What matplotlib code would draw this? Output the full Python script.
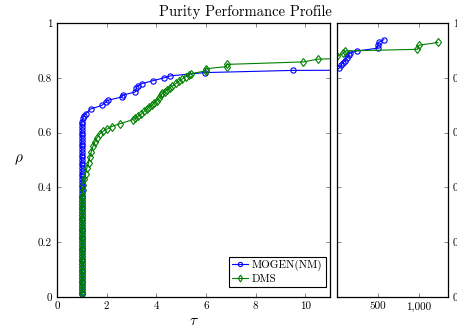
import numpy as np
import matplotlib
matplotlib.use("Agg")
import matplotlib.pyplot as plt

plt.rcParams["font.family"] = ["cmr10", "DejaVu Serif"]
plt.rcParams["mathtext.fontset"] = "cm"
plt.rcParams["axes.formatter.use_mathtext"] = True

# MOGEN(NM): stack of problems solved at tau = 1, then the rest of the profile
mogen_rho_at_one = [
    0.01, 0.02, 0.03, 0.04, 0.05, 0.06, 0.07, 0.08, 0.09, 0.10, 0.11, 0.12, 0.13, 0.14, 0.15, 0.16,
    0.17, 0.18, 0.19, 0.20, 0.21, 0.22, 0.23, 0.24, 0.25, 0.26, 0.27, 0.28, 0.29, 0.30, 0.31, 0.32,
    0.33, 0.34, 0.35, 0.36, 0.37, 0.38, 0.39, 0.40, 0.41, 0.42, 0.43, 0.44, 0.45, 0.46, 0.47, 0.48,
    0.49, 0.50, 0.51, 0.52, 0.53, 0.54, 0.55, 0.56, 0.57, 0.58, 0.59, 0.60, 0.61, 0.62, 0.63, 0.64,
]
mogen_tau_rest = [1.05, 1.1, 1.15, 1.35, 1.8, 1.98, 2.05, 2.62, 2.65, 3.15, 3.2, 3.25, 3.43,
                  3.85, 4.32, 4.56, 5.95, 9.5,
                  41, 60, 80, 105, 130, 150, 165, 250, 500, 505, 512, 575]
mogen_rho_rest = [0.655, 0.662, 0.668, 0.686, 0.699, 0.712, 0.718, 0.730, 0.737, 0.748, 0.764, 0.770, 0.779,
                  0.789, 0.800, 0.807, 0.819, 0.827,
                  0.837, 0.846, 0.855, 0.861, 0.874, 0.882, 0.890, 0.898, 0.908, 0.920, 0.929, 0.939]

# DMS
dms_rho_at_one = [
    0.01, 0.02, 0.03, 0.04, 0.05, 0.06, 0.07, 0.08, 0.09, 0.10, 0.11, 0.12, 0.13, 0.14, 0.15, 0.16,
    0.17, 0.18, 0.19, 0.20, 0.21, 0.22, 0.23, 0.24, 0.25, 0.26, 0.27, 0.28, 0.29, 0.30, 0.31, 0.32,
    0.33, 0.34, 0.35, 0.36,
]
dms_tau_rest = [1.01, 1.03, 1.06, 1.1, 1.15, 1.2, 1.27, 1.32, 1.38, 1.45, 1.52, 1.6, 1.72, 1.85,
                2.0, 2.2, 2.52, 3.05, 3.15, 3.25, 3.4, 3.52, 3.62, 3.72, 3.82, 3.92, 4.02, 4.12,
                4.2, 4.25, 4.35, 4.45, 4.55, 4.65, 4.8, 4.92, 5.05, 5.19, 5.3, 5.39, 5.99, 6.0,
                6.83, 6.85, 9.93, 10.5,
                14, 85, 113, 980, 1000, 1228]
dms_rho_rest = [0.37, 0.39, 0.41, 0.43, 0.45, 0.47, 0.49, 0.51, 0.53, 0.55, 0.565, 0.58, 0.595, 0.605,
                0.612, 0.622, 0.632, 0.647, 0.652, 0.659, 0.668, 0.678, 0.686, 0.694, 0.700, 0.708, 0.717, 0.727,
                0.736, 0.745, 0.750, 0.757, 0.764, 0.770, 0.780, 0.788, 0.796, 0.804, 0.810, 0.815, 0.825, 0.833,
                0.841, 0.849, 0.858, 0.868,
                0.878, 0.889, 0.898, 0.904, 0.919, 0.929]

rho_ticks = [0, 0.2, 0.4, 0.6, 0.8, 1]
rho_labels = ["0", "0.2", "0.4", "0.6", "0.8", "1"]
tau_ticks_left = [0, 2, 4, 6, 8, 10]
tau_ticks_right = [500, 1000]
tau_labels_right = ["500", "1,000"]

mogen_tau = np.array([1.0] * len(mogen_rho_at_one) + mogen_tau_rest)
mogen_rho = np.array(mogen_rho_at_one + mogen_rho_rest)
dms_tau = np.array([1.0] * len(dms_rho_at_one) + dms_tau_rest)
dms_rho = np.array(dms_rho_at_one + dms_rho_rest)

series = [
    ("MOGEN(NM)", mogen_tau, mogen_rho, "#0000ff", "o", 3.8),
    ("DMS", dms_tau, dms_rho, "#008000", "d", 4.4),
]

fig = plt.figure(figsize=(4.57, 3.3), dpi=100)
ax1 = fig.add_axes([57 / 457, 33 / 330, 273 / 457, 274 / 330])
ax2 = fig.add_axes([337 / 457, 33 / 330, 111 / 457, 274 / 330])

x_split = 11
for name, tau, rho, col, mk, ms in series:
    ax1.plot(tau, rho, color=col, lw=0.8, marker=mk, ms=ms, mfc="none", mew=0.8, label=name)
    ax2.plot(tau, rho, color=col, lw=0.8)
    keep = tau > x_split
    ax2.plot(tau[keep], rho[keep], ls="none", color=col, marker=mk, ms=ms, mfc="none", mew=0.8)

ax1.set_xlim(0, x_split)
ax2.set_xlim(x_split, 1350)
for ax in (ax1, ax2):
    ax.set_ylim(0, 1)
    ax.set_yticks(rho_ticks)
    ax.tick_params(direction="in", length=3, width=0.5, color="#555555", labelsize=8,
                   top=True, right=True, left=True, bottom=True)
    for sp in ax.spines.values():
        sp.set_linewidth(0.9)

ax1.set_xticks(tau_ticks_left)
ax1.set_xticklabels([str(t) for t in tau_ticks_left])
ax1.set_yticklabels(rho_labels)
ax2.set_xticks(tau_ticks_right)
ax2.set_xticklabels(tau_labels_right)
ax2.tick_params(labelleft=False, labelright=True)
ax2.set_yticklabels(rho_labels)

ax1.set_xlabel(r"$\tau$", fontsize=11, labelpad=2)
ax1.set_ylabel(r"$\rho$", fontsize=11, rotation=0, labelpad=14, va="center")
fig.text(245 / 457, 0.964, "Purity Performance Profile", ha="center", va="center", fontsize=10.5)

leg = ax1.legend(loc="lower right", bbox_to_anchor=(0.985, 0.036), borderaxespad=0,
                 fontsize=8, fancybox=False, edgecolor="black", framealpha=1, markerscale=0.8,
                 handlelength=1.4, handletextpad=0.4, labelspacing=0.25, borderpad=0.3)
leg.get_frame().set_linewidth(0.8)

fig.savefig("out.png", dpi=100)
